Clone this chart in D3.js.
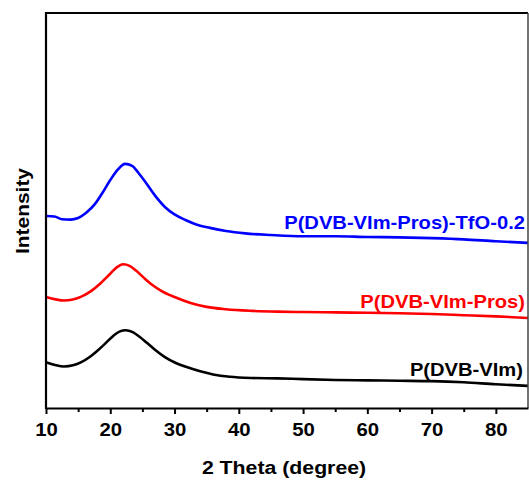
<!DOCTYPE html>
<html>
<head>
<meta charset="utf-8">
<script src="https://cdn.jsdelivr.net/npm/d3@7"></script>
<style>
  body { margin: 0; background: #fff; }
  text { font-family: Arial, "Liberation Sans", sans-serif; font-weight: bold; }
</style>
</head>
<body>
<div id="chart"></div>
<script>
// 2 theta positions (degree) and intensities (a.u., offset per pattern)
var thetaVIm = [10, 11.4, 12.8, 14.2, 15.5, 16.8, 18, 19.2, 20.5, 21.5, 22.4, 23.5, 24.5, 25.7, 27, 28.5, 30.2, 32, 34, 36, 38.6, 42, 46, 50, 55, 60, 65, 70, 75, 80, 85]
var intVIm   = [11.6, 10.9, 10.5, 10.8, 11.6, 12.9, 14.5, 16.3, 18.3, 19.4, 19.7, 19.2, 18.1, 16.5, 14.7, 12.9, 11.4, 10.3, 9.3, 8.5, 7.9, 7.6, 7.5, 7.3, 7.1, 7.0, 6.9, 6.8, 6.5, 6.0, 5.6]

var thetaPros = [10, 11.5, 12.8, 14, 15.5, 17, 18.5, 20, 21, 22, 23, 24, 25.2, 26.5, 28, 30, 32.5, 35, 38, 42, 46, 50, 55, 60, 65, 70, 75, 80, 85]
var intPros   = [28.1, 27.5, 27.2, 27.4, 28.2, 29.6, 31.6, 34.0, 35.6, 36.4, 36.0, 34.8, 33.0, 31.2, 29.6, 28.1, 26.6, 25.6, 25.0, 24.6, 24.4, 24.3, 24.2, 24.1, 24.0, 23.8, 23.5, 23.2, 22.8]

var thetaTfO = [10, 11.3, 12.5, 13.8, 15, 16.3, 17.6, 18.8, 20, 21.2, 22.3, 23.4, 24.4, 25.6, 27, 28.5, 30, 31.7, 33.5, 35.5, 38, 41, 45, 50, 55, 60, 65, 70, 75, 80, 85]
var intTfO   = [48.6, 48.5, 47.8, 47.7, 48.1, 49.5, 51.6, 54.5, 57.7, 60.4, 61.8, 61.3, 59.5, 56.9, 53.7, 50.9, 49.0, 47.6, 46.4, 45.6, 44.8, 44.2, 43.8, 43.5, 43.5, 43.3, 43.2, 43.0, 42.7, 42.2, 41.8]

var seriesNames = ['P(DVB-VIm)', 'P(DVB-VIm-Pros)', 'P(DVB-VIm-Pros)-TfO-0.2']
var xTicks = [10, 20, 30, 40, 50, 60, 70, 80]

var width = 529, height = 482
var padL = 46, padR = 528, padT = 13, padB = 408

var svg = d3.select('#chart')
    .append('svg')
    .attr('width', width)
    .attr('height', height)

var x = d3.scaleLinear().domain([10, 85]).range([padL, padR])
var y = d3.scaleLinear().domain([0, 100]).range([padB, padT])

var line = d3.line()
    .x(d => x(d[0]))
    .y(d => y(d[1]))
    .curve(d3.curveMonotoneX)

var series = [
  {name: seriesNames[0], xs: thetaVIm, ys: intVIm, color: '#000000', lx: 523, ly: 376},
  {name: seriesNames[1], xs: thetaPros, ys: intPros, color: '#ff0000', lx: 525, ly: 308},
  {name: seriesNames[2], xs: thetaTfO, ys: intTfO, color: '#0000ff', lx: 525, ly: 229}
]

series.forEach(s => {
  svg.append('path')
    .datum(s.xs.map((v, i) => [v, s.ys[i]]))
    .attr('fill', 'none')
    .attr('stroke', s.color)
    .attr('stroke-width', 2.6)
    .attr('stroke-linejoin', 'round')
    .attr('d', line)

  svg.append('text')
    .attr('transform', `translate(${s.lx},${s.ly}) scale(1.12,1)`)
    .attr('text-anchor', 'end')
    .attr('font-size', 18)
    .attr('fill', s.color)
    .text(s.name)
})

// frame
svg.append('line').attr('x1', padL).attr('x2', padR).attr('y1', padT).attr('y2', padT)
  .attr('stroke', '#000').attr('stroke-width', 2)
svg.append('line').attr('x1', padR).attr('x2', padR).attr('y1', padT).attr('y2', padB)
  .attr('stroke', '#444').attr('stroke-width', 1.5)
svg.append('line').attr('x1', padL).attr('x2', padL).attr('y1', padT - 1).attr('y2', padB + 1)
  .attr('stroke', '#000').attr('stroke-width', 2.2)

// minor ticks
svg.append('g')
  .attr('transform', `translate(0,${padB})`)
  .call(d3.axisBottom(x).tickValues(d3.range(15, 85, 10)).tickSize(4).tickFormat(''))
  .call(g => g.select('.domain').remove())
  .call(g => g.selectAll('line').attr('stroke-width', 2))

// major ticks + labels
var xAxis = svg.append('g')
  .attr('transform', `translate(0,${padB})`)
  .call(d3.axisBottom(x).tickValues(xTicks).tickSize(6).tickPadding(9).tickSizeOuter(0))
xAxis.select('.domain').attr('stroke-width', 2.2)
xAxis.selectAll('line').attr('stroke-width', 2)
xAxis.selectAll('text')
  .attr('font-size', 18.5)
  .attr('fill', '#000')
  .attr('transform', 'scale(1.1,1)')

svg.append('text')
  .attr('transform', 'translate(284,474) scale(1.12,1)')
  .attr('text-anchor', 'middle')
  .attr('font-size', 19)
  .text('2 Theta (degree)')

svg.append('text')
  .attr('transform', 'translate(29,211) rotate(-90) scale(1.1,1)')
  .attr('text-anchor', 'middle')
  .attr('font-size', 19)
  .text('Intensity')
</script>
</body>
</html>
